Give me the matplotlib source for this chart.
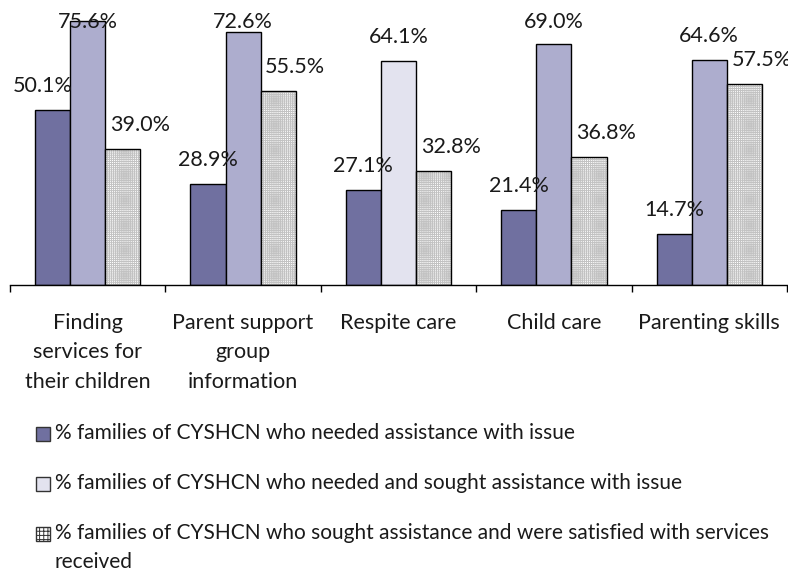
import numpy as np
import matplotlib.pyplot as plt
from matplotlib.patches import Rectangle

# data
categories = ['Finding\nservices for\ntheir children', 'Parent support\ngroup\ninformation',
              'Respite care', 'Child care', 'Parenting skills']
needed = [50.1, 28.9, 27.1, 21.4, 14.7]
sought = [75.6, 72.6, 64.1, 69.0, 64.6]
satisfied = [39.0, 55.5, 32.8, 36.8, 57.5]
series_labels = [
    '% families of CYSHCN who needed assistance with issue',
    '% families of CYSHCN who needed and sought assistance with issue',
    '% families of CYSHCN who sought assistance and were satisfied with services\nreceived',
]

DARK = '#7070A0'
MID = '#ADADCE'
LIGHT = '#E3E3EF'
HATCH_GREY = '#C2C2C2'
TEXT = '#1a1a1a'

plt.rcParams['font.family'] = ['Lato', 'DejaVu Sans']
plt.rcParams['hatch.linewidth'] = 0.7

W, H = 788, 569
fig = plt.figure(figsize=(W / 100, H / 100), dpi=100)
ax = fig.add_axes([10 / W, 1 - 285 / H, 777 / W, 279 / H])

x = np.arange(len(categories))
w = 0.226

ax.bar(x - w, needed, w, color=DARK, edgecolor='black', linewidth=1)
sought_colors = [LIGHT if c == 'Respite care' else MID for c in categories]
ax.bar(x, sought, w, color=sought_colors, edgecolor='black', linewidth=1)
# patterned series: hatch layer, then black outline on top
ax.bar(x + w, satisfied, w, color='white', edgecolor=HATCH_GREY, hatch='++++++++', linewidth=0)
ax.bar(x + w, satisfied, w, color='none', edgecolor='black', linewidth=1)

# value labels (third series sits a bit to the right, like the original)
label_shift = [0.0, 0.0, 0.11]
nudge = {(0, 0): -0.065}
for k, vals in enumerate([needed, sought, satisfied]):
    for i, v in enumerate(vals):
        y = min(v + 6.9, 75.4)
        xx = x[i] + (k - 1) * w + label_shift[k] + nudge.get((k, i), 0)
        ax.text(xx, y, f'{v:.1f}%', ha='center', va='center', fontsize=15.5, color=TEXT)

ax.set_xlim(-0.5, len(categories) - 0.5)
ax.set_ylim(0, 80)
for s in ['top', 'right', 'left']:
    ax.spines[s].set_visible(False)
ax.spines['bottom'].set_linewidth(1)
ax.set_yticks([])
ax.set_xticks(np.arange(-0.5, len(categories)), labels=[''] * (len(categories) + 1))
ax.tick_params(axis='x', which='major', direction='out', length=5, width=1)
ax.set_xticks(x, labels=categories, minor=True)
ax.tick_params(axis='x', which='minor', length=0, pad=20, labelsize=15.5, labelcolor=TEXT)
for t in ax.get_xticklabels(minor=True):
    t.set_linespacing(1.6)
    t.set_va('top')

# legend drawn by hand: square swatch + text, one entry per row
leg_y = [433, 483, 533]
leg_colors = [DARK, LIGHT, 'white']
line_gap = 29
for k, (yy, lab) in enumerate(zip(leg_y, series_labels)):
    yf = 1 - (yy + 1) / H
    sq = Rectangle((36 / W, yf - 7 / H), 14 / W, 14 / H, transform=fig.transFigure,
                   facecolor=leg_colors[k], edgecolor='#333333', linewidth=1,
                   hatch='++++' if k == 2 else None)
    fig.patches.append(sq)
    for j, line in enumerate(lab.split('\n')):
        fig.text(55 / W, 1 - (yy + j * line_gap) / H, line, ha='left', va='center',
                 fontsize=15, color=TEXT)

fig.savefig('out.png', dpi=100)
